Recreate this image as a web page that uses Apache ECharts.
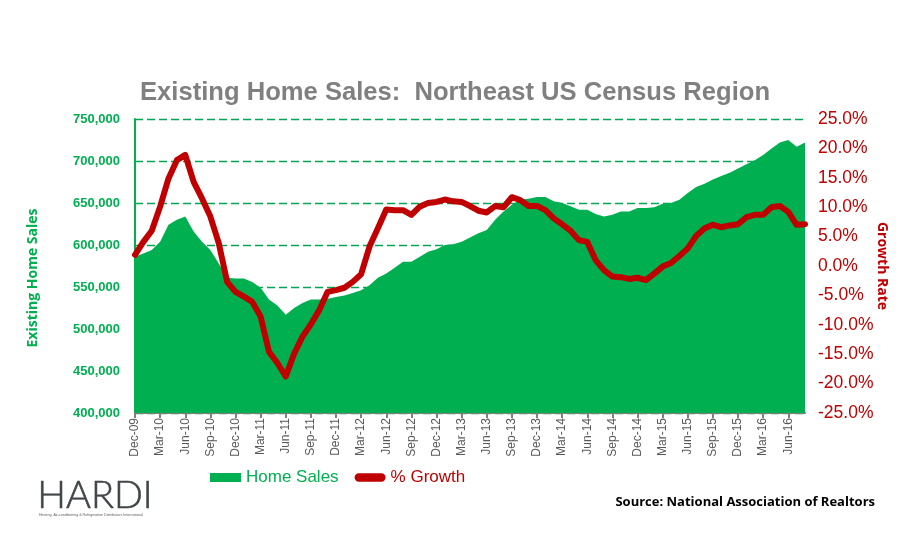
<!DOCTYPE html>
<html>
<head>
<meta charset="utf-8">
<script src="https://cdn.jsdelivr.net/npm/echarts@6/dist/echarts.min.js"></script>
<style>html,body{margin:0;padding:0;background:#fff;}#chart{width:900px;height:550px;}</style>
</head>
<body>
<div id="chart"></div>
<script>
var months = ['Dec-09',
 'Jan-10','Feb-10','Mar-10','Apr-10','May-10','Jun-10','Jul-10','Aug-10','Sep-10','Oct-10','Nov-10','Dec-10',
 'Jan-11','Feb-11','Mar-11','Apr-11','May-11','Jun-11','Jul-11','Aug-11','Sep-11','Oct-11','Nov-11','Dec-11',
 'Jan-12','Feb-12','Mar-12','Apr-12','May-12','Jun-12','Jul-12','Aug-12','Sep-12','Oct-12','Nov-12','Dec-12',
 'Jan-13','Feb-13','Mar-13','Apr-13','May-13','Jun-13','Jul-13','Aug-13','Sep-13','Oct-13','Nov-13','Dec-13',
 'Jan-14','Feb-14','Mar-14','Apr-14','May-14','Jun-14','Jul-14','Aug-14','Sep-14','Oct-14','Nov-14','Dec-14',
 'Jan-15','Feb-15','Mar-15','Apr-15','May-15','Jun-15','Jul-15','Aug-15','Sep-15','Oct-15','Nov-15','Dec-15',
 'Jan-16','Feb-16','Mar-16','Apr-16','May-16','Jun-16','Jul-16','Aug-16'];

var homeSales = [586000,590000,594000,604000,624000,630000,634000,616000,604000,594000,
 578000,561000,560000,560000,556000,549000,535000,528000,517000,525000,
 531000,535000,535000,536000,538000,540000,543000,546000,552000,561000,
 566000,573000,580000,580000,586000,592000,595000,600000,601000,604000,
 609000,614000,618000,630000,640000,648000,654000,655000,657000,657000,
 652000,650000,646000,642000,642000,637000,634000,636000,640000,640000,
 644000,644000,645000,649000,650000,654000,662000,669000,673000,678000,
 682000,686000,691000,696000,701000,707000,715000,722000,725000,717000,722000];

var growth = [1.9,4.1,6.0,10.1,14.9,18.0,18.9,14.3,11.5,8.4,
 3.9,-2.7,-4.4,-5.2,-6.1,-8.6,-14.6,-16.5,-18.8,-14.9,
 -12.0,-9.9,-7.5,-4.4,-4.1,-3.7,-2.7,-1.4,3.3,6.4,
 9.6,9.5,9.5,8.7,10.1,10.7,10.9,11.3,11.0,10.9,
 10.2,9.4,9.1,10.2,10.0,11.7,11.2,10.2,10.2,9.5,
 8.1,7.1,6.0,4.4,4.1,1.0,-0.7,-1.8,-1.9,-2.2,
 -2.0,-2.4,-1.3,-0.1,0.5,1.7,3.0,5.1,6.4,7.0,
 6.6,6.9,7.1,8.3,8.7,8.7,10.0,10.2,9.2,7.0,7.1];

var GREEN = '#00b050', RED = '#c00000';
var chart = echarts.init(document.getElementById('chart'));
chart.setOption({
  animation: false,
  title: {
    text: 'Existing Home Sales:  Northeast US Census Region',
    left: 135, top: 75,
    textStyle: {fontFamily: 'Liberation Sans', fontSize: 25.6, fontWeight: 'bold', color: '#808080'}
  },
  grid: {left: 135, right: 95, top: 119, bottom: 137, outerBoundsMode: 'none', containLabel: false},
  legend: {
    left: 205, top: 464,
    itemWidth: 31, itemHeight: 9, itemGap: 16,
    textStyle: {fontFamily: 'Liberation Sans', fontSize: 17},
    data: [
      {name: 'Home Sales', icon: 'rect', itemStyle: {color: GREEN}, textStyle: {color: GREEN}},
      {name: '% Growth', icon: 'path://M4,0 L26,0 A4,4 0 0 1 26,8 L4,8 A4,4 0 0 1 4,0 Z', itemStyle: {color: RED}, textStyle: {color: RED}}
    ]
  },
  xAxis: {
    type: 'category', data: months, boundaryGap: false,
    axisLine: {onZero: false, lineStyle: {color: '#808080', width: 2}},
    axisTick: {interval: 2, length: 5, lineStyle: {color: '#808080', width: 2}},
    axisLabel: {interval: 2, rotate: 90, margin: 5, color: '#595959', fontFamily: 'Liberation Sans', fontSize: 12}
  },
  yAxis: [
    {
      type: 'value', min: 400000, max: 750000, interval: 50000,
      name: 'Existing Home Sales', nameLocation: 'middle', nameGap: 95,
      nameTextStyle: {color: GREEN, fontFamily: 'Open Sans', fontWeight: 'bold', fontSize: 14, padding: [0, 24, 0, 0]},
      axisLine: {show: true, onZero: false, lineStyle: {color: GREEN, width: 2}},
      axisTick: {show: false},
      axisLabel: {color: GREEN, fontFamily: 'Liberation Sans', fontWeight: 'bold', fontSize: 13, margin: 15,
        formatter: function (v) { return v.toLocaleString('en-US'); }},
      splitLine: {show: true, lineStyle: {color: '#00a651', type: [8, 4], width: 1.3}}
    },
    {
      type: 'value', min: -25, max: 25, interval: 5, position: 'right',
      name: 'Growth Rate', nameLocation: 'middle', nameGap: 70, nameRotate: -90, nameMoveOverlap: false,
      nameTextStyle: {color: RED, fontFamily: 'Open Sans', fontWeight: 'bold', fontSize: 14},
      axisLine: {show: false}, axisTick: {show: false},
      axisLabel: {color: RED, fontFamily: 'Liberation Sans', fontSize: 17.5, margin: 13,
        formatter: function (v) { return v.toFixed(1) + '%'; }},
      splitLine: {show: false}
    }
  ],
  series: [
    {
      name: 'Home Sales', type: 'line', data: homeSales, yAxisIndex: 0,
      symbol: 'none', lineStyle: {width: 0}, itemStyle: {color: GREEN},
      areaStyle: {color: GREEN, opacity: 1}, z: 2
    },
    {
      name: '% Growth', type: 'line', data: growth, yAxisIndex: 1,
      symbol: 'none', lineStyle: {width: 6, color: RED, join: 'round', cap: 'round'},
      itemStyle: {color: RED}, z: 3
    }
  ],
  graphic: [
    {type: 'text', left: 37, top: 476, style: {text: 'HARDI', fontFamily: 'Lato', fontWeight: 300, fontSize: 38, fill: '#404548', stroke: '#404548', lineWidth: 0.6}},
    {type: 'text', left: 39, top: 513, style: {text: 'Heating, Air-conditioning & Refrigeration Distributors International', fontFamily: 'Liberation Sans', fontSize: 3.6, fill: '#606060'}},
    {type: 'text', right: 25, top: 496, style: {text: 'Source: National Association of Realtors', fontFamily: 'Open Sans', fontWeight: 'bold', fontSize: 13, fill: '#000'}}
  ]
});
</script>
</body>
</html>
